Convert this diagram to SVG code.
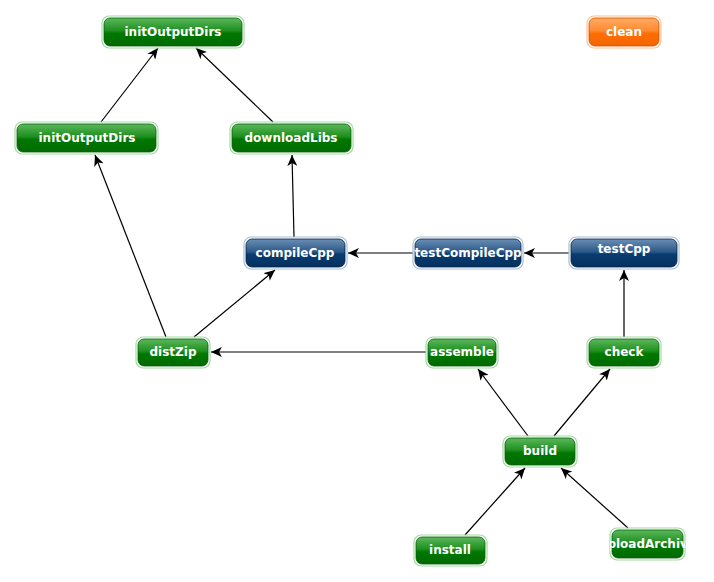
<svg xmlns="http://www.w3.org/2000/svg" width="714" height="582" viewBox="0 0 714 582">
<defs>
<linearGradient id="gG" x1="0" y1="0" x2="0" y2="1">
<stop offset="0" stop-color="#5cb85c"/>
<stop offset="0.45" stop-color="#1e8f1e"/>
<stop offset="0.55" stop-color="#007800"/>
<stop offset="1" stop-color="#006a00"/>
</linearGradient>
<linearGradient id="gB" x1="0" y1="0" x2="0" y2="1">
<stop offset="0" stop-color="#6a8fb5"/>
<stop offset="0.45" stop-color="#2e5987"/>
<stop offset="0.55" stop-color="#083c70"/>
<stop offset="1" stop-color="#05305e"/>
</linearGradient>
<linearGradient id="gO" x1="0" y1="0" x2="0" y2="1">
<stop offset="0" stop-color="#ffab66"/>
<stop offset="0.45" stop-color="#ff8a30"/>
<stop offset="0.55" stop-color="#ff6e05"/>
<stop offset="1" stop-color="#f26500"/>
</linearGradient>
<marker id="arr" viewBox="0 0 11 10" refX="11" refY="5" markerWidth="11" markerHeight="10" markerUnits="userSpaceOnUse" orient="auto">
<path d="M0,0 L11,5 L0,10 L3,5 Z" fill="#000"/>
</marker>
<clipPath id="clipUp"><rect x="610" y="528" width="75" height="32" rx="6"/></clipPath>
</defs>
<style>
.g rect.o{fill:none;stroke:#9fdc9f;stroke-width:1.2}
.g rect.i{fill:url(#gG);stroke:#0b5e0b;stroke-width:0.8}
.b rect.o{fill:none;stroke:#a8bdd6;stroke-width:1.2}
.b rect.i{fill:url(#gB);stroke:#022448;stroke-width:0.8}
.r rect.o{fill:none;stroke:#ffc08a;stroke-width:1.2}
.r rect.i{fill:url(#gO);stroke:#c95000;stroke-width:0.8}
text{font-family:"DejaVu Sans","Liberation Sans",sans-serif;font-weight:bold;font-size:12px;fill:#fff;text-anchor:middle}
#edges line{stroke:#000;stroke-width:1.2;marker-end:url(#arr)}
</style>
<rect width="714" height="582" fill="#fff"/>
<g id="edges">
<line x1="101" y1="122" x2="158" y2="48"/>
<line x1="273" y1="122" x2="196" y2="48"/>
<line x1="294" y1="237" x2="292" y2="155"/>
<line x1="166" y1="337" x2="95" y2="155"/>
<line x1="194" y1="337" x2="275" y2="270"/>
<line x1="413" y1="253" x2="348" y2="253"/>
<line x1="569" y1="253" x2="524" y2="253"/>
<line x1="624" y1="337" x2="624" y2="270"/>
<line x1="426" y1="352" x2="211" y2="352"/>
<line x1="528" y1="436" x2="478" y2="369"/>
<line x1="554" y1="436" x2="610" y2="369"/>
<line x1="465" y1="535" x2="525" y2="468"/>
<line x1="628" y1="528" x2="561" y2="468"/>
</g>
<g id="initOutputDirs" class="g"><rect class="o" x="102" y="16" width="142" height="32" rx="7"/><rect class="i" x="104" y="18" width="138" height="28" rx="6"/><text x="173" y="36">initOutputDirs</text></g>
<g id="clean" class="r"><rect class="o" x="587" y="16" width="74" height="32" rx="7"/><rect class="i" x="589" y="18" width="70" height="28" rx="6"/><text x="624" y="36">clean</text></g>
<g id="initOutputDirs2" class="g"><rect class="o" x="15" y="122" width="143" height="32" rx="7"/><rect class="i" x="17" y="124" width="139" height="28" rx="6"/><text x="87" y="142">initOutputDirs</text></g>
<g id="downloadLibs" class="g"><rect class="o" x="230" y="122" width="123" height="32" rx="7"/><rect class="i" x="232" y="124" width="119" height="28" rx="6"/><text x="291" y="142">downloadLibs</text></g>
<g id="compileCpp" class="b"><rect class="o" x="244" y="237" width="103" height="32" rx="7"/><rect class="i" x="246" y="239" width="99" height="28" rx="6"/><text x="295" y="257">compileCpp</text></g>
<g id="testCompileCpp" class="b"><rect class="o" x="413" y="237" width="110" height="32" rx="7"/><rect class="i" x="415" y="239" width="106" height="28" rx="6"/><text x="468" y="257">testCompileCpp</text></g>
<g id="testCpp" class="b"><rect class="o" x="569" y="237" width="110" height="32" rx="7"/><rect class="i" x="571" y="239" width="106" height="28" rx="6"/><text x="624" y="253">testCpp</text></g>
<g id="distZip" class="g"><rect class="o" x="136" y="337" width="74" height="31" rx="7"/><rect class="i" x="138" y="339" width="70" height="27" rx="6"/><text x="173" y="356">distZip</text></g>
<g id="assemble" class="g"><rect class="o" x="426" y="337" width="72" height="31" rx="7"/><rect class="i" x="428" y="339" width="68" height="27" rx="6"/><text x="462" y="356">assemble</text></g>
<g id="check" class="g"><rect class="o" x="587" y="337" width="74" height="31" rx="7"/><rect class="i" x="589" y="339" width="70" height="27" rx="6"/><text x="624" y="356">check</text></g>
<g id="build" class="g"><rect class="o" x="503" y="436" width="74" height="31" rx="7"/><rect class="i" x="505" y="438" width="70" height="27" rx="6"/><text x="540" y="455">build</text></g>
<g id="install" class="g"><rect class="o" x="414" y="535" width="73" height="31" rx="7"/><rect class="i" x="416" y="537" width="69" height="27" rx="6"/><text x="450" y="554">install</text></g>
<g id="uploadArchives" class="g"><rect class="o" x="610" y="528" width="75" height="32" rx="7"/><rect class="i" x="612" y="530" width="71" height="28" rx="6"/><text x="651" y="548" clip-path="url(#clipUp)">uploadArchives</text></g>
</svg>
